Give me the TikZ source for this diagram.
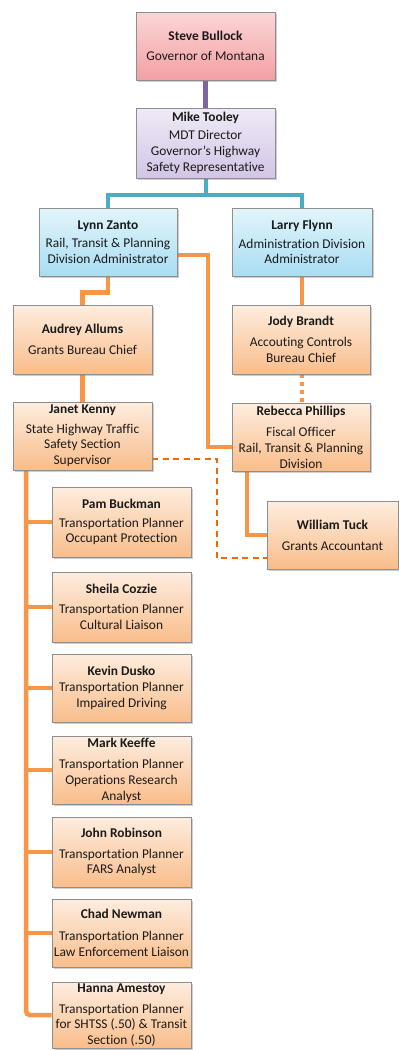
\documentclass[tikz,border=0pt]{standalone}
\usepackage{fontspec}
\setmainfont{Carlito}[Ligatures={NoCommon}]
\usetikzlibrary{shadows,backgrounds,calc}
\definecolor{bordergray}{HTML}{8E8E8E}
\definecolor{txt}{HTML}{1A1A1A}
\definecolor{pinkT}{HTML}{FBD6D7}
\definecolor{pinkB}{HTML}{F3A0A2}
\definecolor{lavT}{HTML}{F0EAF6}
\definecolor{lavB}{HTML}{D2C5E6}
\definecolor{bluT}{HTML}{E2F5FB}
\definecolor{bluB}{HTML}{A8DDF2}
\definecolor{orT}{HTML}{FEEDDF}
\definecolor{orB}{HTML}{F9BD8A}
\definecolor{conPurple}{HTML}{8064A2}
\definecolor{conBlue}{HTML}{4BACC6}
\definecolor{conOrange}{HTML}{F79646}
\definecolor{conDark}{HTML}{E46C0A}
\tikzset{
  box/.style={draw=bordergray, line width=0.9pt, minimum width=139pt, minimum height=69pt,
    inner sep=0pt, align=center, text=txt, font=\fontsize{13.4}{15.8}\selectfont,
    drop shadow={shadow xshift=1.5pt, shadow yshift=-1.8pt, opacity=0.35, fill=black!55}},
  pinkbox/.style={box, top color=pinkT, bottom color=pinkB},
  lavbox/.style={box, top color=lavT, bottom color=lavB},
  blubox/.style={box, top color=bluT, bottom color=bluB},
  orbox/.style={box, top color=orT, bottom color=orB},
  conP/.style={draw=conPurple, line width=5pt},
  conB/.style={draw=conBlue, line width=4pt},
  conO/.style={draw=conOrange, line width=4.5pt},
  conOdot/.style={draw=conOrange, line width=4.5pt, dash pattern=on 4pt off 4pt},
  conOdash/.style={draw=conDark, line width=2pt, dash pattern=on 6pt off 4.5pt},
}
\begin{document}
\begin{tikzpicture}[x=1pt,y=-1pt]
\useasboundingbox (0,0) rectangle (399,1050);
\node[pinkbox, minimum height=68pt] (steve) at (205.5,46) {\textbf{Steve Bullock}\\[4pt]Governor of Montana};
\node[lavbox, minimum height=70pt] (mike) at (205.5,143) {\textbf{Mike Tooley}\\[2pt]MDT Director\\Governor's Highway\\Safety Representative};
\node[blubox, minimum width=138pt, minimum height=68pt] (lynn) at (108,242) {\textbf{Lynn Zanto}\\[3pt]Rail, Transit \& Planning\\Division Administrator};
\node[blubox, minimum width=140pt, minimum height=68pt] (larry) at (302,242) {\textbf{Larry Flynn}\\[3pt]Administration Division\\Administrator};
\node[orbox] (audrey) at (82.5,339.5) {\textbf{Audrey Allums}\\[5pt]Grants Bureau Chief};
\node[orbox, minimum width=138pt] (jody) at (301,339.5) {\textbf{Jody Brandt}\\[5.5pt]Accouting Controls\\Bureau Chief};
\node[orbox, minimum height=68pt] (janet) at (82.5,436) {\textbf{Janet Kenny}\\[3.5pt]State Highway Traffic\\Safety Section\\Supervisor};
\node[orbox, minimum width=138pt, minimum height=68pt] (rebecca) at (301,437) {\textbf{Rebecca Phillips}\\[5.5pt]Fiscal Officer\\Rail, Transit \& Planning\\Division};
\node[orbox, minimum width=131pt, minimum height=68pt] (william) at (332.5,535) {\textbf{William Tuck}\\[5.5pt]Grants Accountant};
\node[orbox, minimum height=70pt] (pam) at (121.5,522) {\textbf{Pam Buckman}\\[3pt]Transportation Planner\\Occupant Protection};
\node[orbox, minimum height=70pt] (sheila) at (121.5,607) {\textbf{Sheila Cozzie}\\[4pt]Transportation Planner\\Cultural Liaison};
\node[orbox, minimum height=68pt] (kevin) at (121.5,688) {\textbf{Kevin Dusko}\\[0pt]Transportation Planner\\Impaired Driving};
\node[orbox, minimum height=68pt] (mark) at (121.5,770) {\textbf{Mark Keeffe}\\[5.5pt]Transportation Planner\\Operations Research\\Analyst};
\node[orbox, minimum height=70pt] (john) at (121.5,852) {\textbf{John Robinson}\\[5pt]Transportation Planner\\FARS Analyst};
\node[orbox, minimum height=68pt] (chad) at (121.5,933) {\textbf{Chad Newman}\\[6.5pt]Transportation Planner\\Law Enforcement Liaison};
\node[orbox, minimum height=66pt] (hanna) at (121.5,1015) {\textbf{Hanna Amestoy}\\[5pt]Transportation Planner\\for SHTSS (.50) \& Transit\\Section (.50)};
\begin{scope}[on background layer]
\draw[conP] (steve.south) -- (mike.north);
\coordinate (bj) at (205.5,195);
\draw[conB] (mike.south) -- (bj);
\draw[conB] (lynn.north) |- (bj) -| (larry.north);
\draw[conO] (lynn.south) -- ++(0,16) -| (audrey.north);
\coordinate (c1) at (208,447);
\draw[conO] ([yshift=-13pt]lynn.east) -| (c1) -- (c1 -| rebecca.west);
\draw[conO] (larry.south) -- (larry.south |- jody.north);
\draw[conOdot] (larry.south |- jody.south) -- (larry.south |- rebecca.north);
\draw[conO] (audrey.south) -- (janet.north);
\coordinate (c2) at (217,558);
\draw[conOdash] ([yshift=-23pt]janet.east) -| (c2) -- (c2 -| william.west);
\draw[conO] ([xshift=-54pt]rebecca.south) |- (william.west);
\coordinate (sp) at ([xshift=-56.5pt]janet.south);
\draw[conO, rounded corners=4pt] (sp) |- (hanna.west);
\foreach \n in {pam,sheila,kevin,mark,john,chad}
  \draw[conO] (sp |- \n.west) -- (\n.west);
\end{scope}
\end{tikzpicture}
\end{document}
